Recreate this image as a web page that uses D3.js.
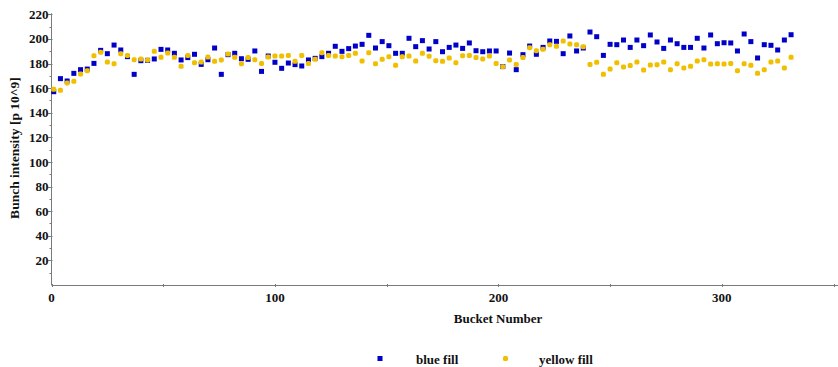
<!DOCTYPE html>
<html>
<head>
<meta charset="utf-8">
<script src="https://cdn.jsdelivr.net/npm/d3@7"></script>
<style>
  html, body { margin: 0; padding: 0; background: #fff; }
  svg text { font-family: "Liberation Serif", "DejaVu Serif", serif; font-weight: bold; fill: #111; }
</style>
</head>
<body>
<div id="chart"></div>
<script>
// bucket numbers (x)
const buckets = [
  1, 4, 7, 10, 13, 16, 19, 22, 25, 28, 31, 34, 37, 40, 43, 46, 49, 52, 55, 58,
  61, 64, 67, 70, 73, 76, 79, 82, 85, 88, 91, 94, 97, 100, 103, 106, 109, 112, 115, 118,
  121, 124, 127, 130, 133, 136, 139, 142, 145, 148, 151, 154, 157, 160, 163, 166, 169, 172, 175, 178,
  181, 184, 187, 190, 193, 196, 199, 202, 205, 208, 211, 214, 217, 220, 223, 226, 229, 232, 235, 238,
  241, 244, 247, 250, 253, 256, 259, 262, 265, 268, 271, 274, 277, 280, 283, 286, 289, 292, 295, 298,
  301, 304, 307, 310, 313, 316, 319, 322, 325, 328, 331
];

const blueFill = [
  157.1, 167.7, 165.8, 172.0, 175.0, 175.5, 180.1, 190.7, 188.0, 195.0,
  191.0, 185.6, 171.2, 182.3, 182.6, 183.7, 191.5, 191.0, 188.3, 182.9,
  184.8, 187.5, 179.3, 183.1, 192.6, 171.2, 187.2, 188.3, 183.9, 183.4,
  190.2, 173.6, 186.1, 181.0, 176.1, 180.4, 179.1, 178.0, 182.9, 184.2,
  185.6, 188.3, 194.0, 189.9, 192.1, 194.2, 195.6, 202.9, 192.6, 197.8,
  194.5, 188.3, 188.3, 200.5, 193.7, 198.6, 191.8, 197.8, 189.6, 193.1,
  195.0, 192.3, 196.7, 190.4, 189.6, 190.2, 190.2, 177.5, 188.5, 175.0,
  187.2, 194.2, 187.5, 193.1, 198.3, 198.0, 188.0, 202.4, 190.2, 192.6,
  205.6, 201.8, 186.6, 195.6, 195.3, 199.1, 193.1, 199.1, 194.5, 203.2,
  197.5, 192.3, 199.1, 196.1, 193.1, 193.1, 200.5, 192.6, 203.2, 196.1,
  196.9, 196.7, 190.2, 204.0, 197.8, 184.5, 195.3, 194.8, 191.0, 199.1,
  203.4
];

const yellowFill = [
  159.0, 158.2, 164.2, 165.5, 171.5, 174.2, 186.4, 189.1, 181.2, 179.9,
  188.0, 186.6, 183.1, 183.7, 182.9, 189.9, 185.0, 188.5, 185.0, 177.7,
  186.6, 180.7, 181.2, 185.3, 181.8, 182.9, 187.7, 185.0, 179.9, 184.8,
  183.1, 180.1, 185.3, 186.1, 186.1, 186.6, 181.8, 186.6, 180.1, 183.4,
  188.8, 186.6, 186.1, 185.6, 186.6, 188.3, 182.0, 188.8, 179.9, 183.4,
  185.6, 178.5, 185.6, 186.1, 182.0, 188.3, 186.0, 182.3, 181.8, 184.5,
  180.7, 186.4, 186.6, 184.8, 183.7, 186.1, 180.1, 177.4, 182.9, 179.3,
  184.8, 192.9, 190.4, 191.5, 195.3, 194.0, 198.3, 195.9, 195.3, 193.7,
  179.3, 181.0, 171.2, 175.5, 180.7, 177.2, 178.3, 181.2, 174.7, 178.8,
  179.1, 181.2, 175.0, 179.9, 176.4, 177.7, 182.0, 183.1, 179.6, 179.9,
  179.6, 180.1, 174.2, 179.9, 178.5, 172.0, 175.0, 181.2, 182.0, 176.4,
  185.0
];

const xTickLabels = [0, 100, 200, 300];
const xTicks = [0, 50, 100, 150, 200, 250, 300, 350];
const yTickLabels = [20, 40, 60, 80, 100, 120, 140, 160, 180, 200, 220];

const series = [
  { name: 'blue fill', values: blueFill, color: '#0000c8', rx: 0 },
  { name: 'yellow fill', values: yellowFill, color: '#f0c000', rx: 1.6 }
];

const width = 838, height = 367;
const svg = d3.select('#chart').append('svg')
  .attr('width', width)
  .attr('height', height);

const x = d3.scaleLinear().domain([0, 352]).range([51.5, 838]);
const y = d3.scaleLinear().domain([0, 220]).range([285, 14.3]);

const axisColor = '#7a7a7a';

// y axis
const yAxis = svg.append('g');
yAxis.append('line')
  .attr('x1', x(0)).attr('x2', x(0))
  .attr('y1', y(0)).attr('y2', y(220) - 1)
  .attr('stroke', axisColor);
yAxis.selectAll('line.minor')
  .data(d3.range(10, 220, 20))
  .join('line')
    .attr('class', 'minor')
    .attr('x1', x(0) - 2).attr('x2', x(0))
    .attr('y1', d => Math.round(y(d)) + 0.5).attr('y2', d => Math.round(y(d)) + 0.5)
    .attr('stroke', axisColor);
yAxis.selectAll('line.major')
  .data(yTickLabels)
  .join('line')
    .attr('class', 'major')
    .attr('x1', x(0) - 3.5).attr('x2', x(0) + 1)
    .attr('y1', d => Math.round(y(d)) + 0.5).attr('y2', d => Math.round(y(d)) + 0.5)
    .attr('stroke', axisColor);
yAxis.selectAll('text')
  .data(yTickLabels)
  .join('text')
    .attr('x', x(0) - 3)
    .attr('y', d => y(d))
    .attr('dy', '0.35em')
    .attr('text-anchor', 'end')
    .style('font-size', '13px')
    .text(d => d);

// x axis
const xAxis = svg.append('g');
xAxis.append('line')
  .attr('x1', x(0)).attr('x2', width)
  .attr('y1', 285.5).attr('y2', 285.5)
  .attr('stroke', axisColor);
xAxis.selectAll('line.tick')
  .data(xTicks)
  .join('line')
    .attr('class', 'tick')
    .attr('x1', d => Math.round(x(d)) + 0.5).attr('x2', d => Math.round(x(d)) + 0.5)
    .attr('y1', 284).attr('y2', 287)
    .attr('stroke', axisColor);
xAxis.selectAll('text')
  .data(xTickLabels)
  .join('text')
    .attr('x', d => x(d))
    .attr('y', 302)
    .attr('text-anchor', 'middle')
    .style('font-size', '13px')
    .text(d => d);

// axis titles
svg.append('text')
  .attr('x', 498)
  .attr('y', 322.5)
  .attr('text-anchor', 'middle')
  .style('font-size', '13px')
  .text('Bucket Number');

svg.append('text')
  .attr('transform', 'translate(19,148) rotate(-90)')
  .attr('text-anchor', 'middle')
  .style('font-size', '13.5px')
  .text('Bunch intensity [p 10^9]');

// points
const ms = 5;
series.forEach(s => {
  svg.append('g')
    .selectAll('rect')
    .data(s.values)
    .join('rect')
      .attr('x', (d, i) => x(buckets[i]) - ms / 2)
      .attr('y', d => y(d) - ms / 2)
      .attr('width', ms)
      .attr('height', ms)
      .attr('rx', s.rx)
      .attr('fill', s.color);
});

// legend
const legendPos = [{ mx: 380, tx: 416 }, { mx: 505.5, tx: 539 }];
const legend = svg.append('g');
series.forEach((s, i) => {
  legend.append('rect')
    .attr('x', legendPos[i].mx - 2.5)
    .attr('y', 356)
    .attr('width', 5).attr('height', 5)
    .attr('rx', s.rx)
    .attr('fill', s.color);
  legend.append('text')
    .attr('x', legendPos[i].tx)
    .attr('y', 364)
    .style('font-size', '13px')
    .text(s.name);
});
</script>
</body>
</html>
